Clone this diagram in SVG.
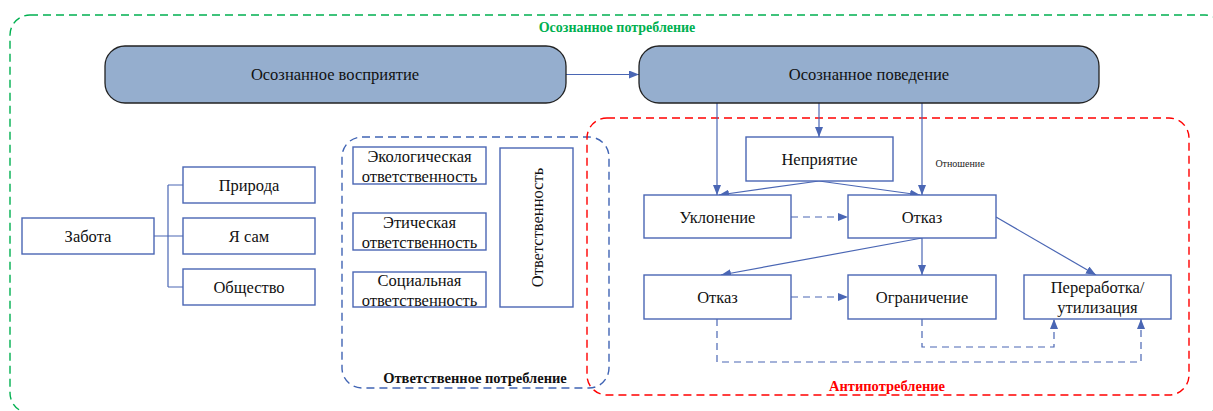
<svg xmlns="http://www.w3.org/2000/svg" width="1213" height="411" viewBox="0 0 1213 411">
<style>
text{font-family:'Liberation Serif','Times New Roman','DejaVu Serif',serif}
.t{font-size:16.5px;fill:#111;text-anchor:middle}
.box{fill:#fff;stroke:#4A66B4;stroke-width:1.4}
.top{fill:#95AECE;stroke:#222;stroke-width:1.3}
.ln{fill:none;stroke:#4A66B4;stroke-width:1.2}
.dl{fill:none;stroke:#4A66B4;stroke-width:1.2;stroke-dasharray:7 5}
.arr{marker-end:url(#ah)}
.lbl{font-weight:bold;text-anchor:middle}
</style>
<defs>
<marker id="ah" markerUnits="userSpaceOnUse" markerWidth="10" markerHeight="8" refX="10" refY="4" orient="auto">
<path d="M0,0 L10,4 L0,8 Z" fill="#4A66B4"/>
</marker>
</defs>
<rect width="1213" height="411" fill="#fff"/>

<g id="group-conscious">
<rect x="10" y="15" width="1215" height="398" rx="20" fill="none" stroke="#00B050" stroke-width="1.4" stroke-dasharray="8 5"/>
<text class="lbl" x="617" y="32" font-size="14" fill="#00B050">Осознанное потребление</text>
</g>
<g id="group-responsible">
<rect x="342" y="137" width="267" height="251" rx="20" fill="none" stroke="#4064B4" stroke-width="1.4" stroke-dasharray="8 5"/>
<text class="lbl" x="475" y="383" font-size="14.5" fill="#111">Ответственное потребление</text>
</g>
<g id="group-anti">
<rect x="587" y="118" width="602" height="277" rx="20" fill="none" stroke="#FF0000" stroke-width="1.4" stroke-dasharray="8 5"/>
<text class="lbl" x="887" y="391" font-size="14.5" fill="#FF0000">Антипотребление</text>
</g>

<g id="connectors">
<path class="ln arr" d="M566,74.5 H639"/>
<path class="ln" d="M154,236 H168 M168,185 V287 M168,185 H183 M168,236 H183 M168,287 H183"/>
<path class="ln arr" d="M717,103 V195"/>
<path class="ln arr" d="M819,103 V137"/>
<path class="ln arr" d="M922,103 V195"/>
<path class="ln arr" d="M819,181 L719,195"/>
<path class="ln arr" d="M819,181 L920,195"/>
<path class="dl arr" d="M791,217 H848"/>
<path class="ln arr" d="M922,238 V275"/>
<path class="ln arr" d="M922,238 L721,275"/>
<path class="ln arr" d="M996,217 L1096,275"/>
<path class="dl arr" d="M791,297 H848"/>
<path class="dl arr" d="M922,319 V347 H1054 V319"/>
<path class="dl arr" d="M717,319 V362 H1141 V319"/>
<text x="960" y="167" font-size="10" fill="#222" text-anchor="middle">Отношение</text>
</g>

<g id="n-perception">
<rect class="top" x="105" y="46" width="461" height="57" rx="20"/>
<text class="t" x="335" y="80" font-size="16">Осознанное восприятие</text>
</g>
<g id="n-behavior">
<rect class="top" x="639" y="46" width="460" height="57" rx="20"/>
<text class="t" x="869" y="80" font-size="16">Осознанное поведение</text>
</g>

<g id="n-care">
<rect class="box" x="22" y="218" width="132" height="36"/>
<text class="t" x="88" y="241.5">Забота</text>
</g>
<g id="n-nature">
<rect class="box" x="183" y="167" width="132" height="36"/>
<text class="t" x="249" y="190.5">Природа</text>
</g>
<g id="n-self">
<rect class="box" x="183" y="218" width="132" height="36"/>
<text class="t" x="249" y="241.5">Я сам</text>
</g>
<g id="n-society">
<rect class="box" x="183" y="269" width="132" height="36"/>
<text class="t" x="249" y="292.5">Общество</text>
</g>

<g id="n-eco">
<rect class="box" x="353" y="147" width="133" height="37"/>
<text class="t" x="419.5" y="161.5">Экологическая</text>
<text class="t" x="419.5" y="182">ответственность</text>
</g>
<g id="n-ethic">
<rect class="box" x="353" y="213" width="133" height="37"/>
<text class="t" x="419.5" y="228">Этическая</text>
<text class="t" x="419.5" y="248">ответственность</text>
</g>
<g id="n-social">
<rect class="box" x="353" y="272" width="133" height="35"/>
<text class="t" x="419.5" y="286">Социальная</text>
<text class="t" x="419.5" y="306">ответственность</text>
</g>
<g id="n-resp">
<rect class="box" x="500" y="148" width="73" height="159"/>
<text class="t" transform="translate(542.5,227.5) rotate(-90)" x="0" y="0">Ответственность</text>
</g>

<g id="n-reject">
<rect class="box" x="746" y="137" width="147" height="44"/>
<text class="t" x="819.5" y="164.5">Неприятие</text>
</g>
<g id="n-avoid">
<rect class="box" x="644" y="195" width="147" height="43"/>
<text class="t" x="717.5" y="222.5">Уклонение</text>
</g>
<g id="n-refuse">
<rect class="box" x="848" y="195" width="148" height="43"/>
<text class="t" x="922" y="222.5">Отказ</text>
</g>
<g id="n-refuse2">
<rect class="box" x="644" y="275" width="147" height="44"/>
<text class="t" x="717.5" y="302.5">Отказ</text>
</g>
<g id="n-limit">
<rect class="box" x="848" y="275" width="148" height="44"/>
<text class="t" x="922" y="302.5">Ограничение</text>
</g>
<g id="n-recycle">
<rect class="box" x="1024" y="275" width="147" height="44"/>
<text class="t" x="1097.5" y="293">Переработка/</text>
<text class="t" x="1097.5" y="313">утилизация</text>
</g>
</svg>
